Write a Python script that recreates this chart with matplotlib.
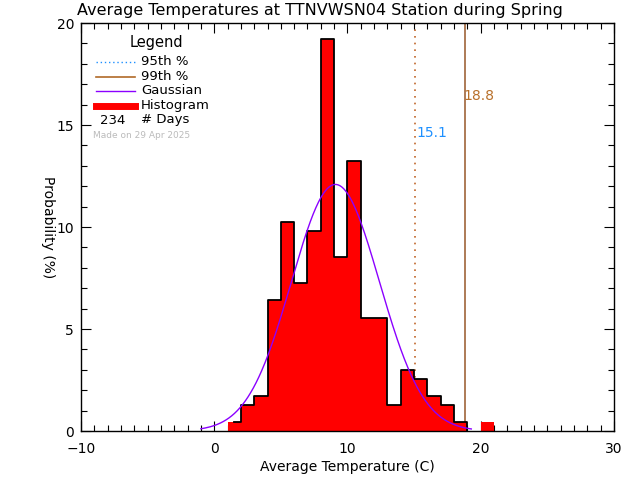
import matplotlib
matplotlib.use("Agg")
import matplotlib.pyplot as plt
from matplotlib.ticker import MultipleLocator
import numpy as np

# histogram of daily average temperature (percent of days, 1 C bins)
bin_edges = [1, 2, 3, 4, 5, 6, 7, 8, 9, 10, 11, 12, 13, 14, 15, 16, 17, 18, 19, 20, 21]
percent = [0.43, 1.28, 1.71, 6.41, 10.26, 7.26, 9.83, 19.23, 8.55, 13.25,
           5.56, 5.56, 1.28, 2.99, 2.56, 1.71, 1.28, 0.43, 0.0, 0.43]

# fitted gaussian
g_mean = 9.1
g_sigma = 3.3
g_start = -1.0
g_end = 19.3

p95 = 15.1
p99 = 18.8
n_days = 234

title = "Average Temperatures at TTNVWSN04 Station during Spring"

fig = plt.figure(figsize=(6.4, 4.8), dpi=100)
ax = fig.add_axes([0.1266, 0.102, 0.8325, 0.850])

left = np.array(bin_edges[:-1])
ax.bar(left, percent, width=1.0, align="edge", color="red", linewidth=0, zorder=2)

# black step outline (starts half way into the first bin, stops at 19)
ox = [1.5] + bin_edges[1:19]
oy = percent[:18] + [0.0]
ax.plot(ox, oy, drawstyle="steps-post", color="black", lw=1.3, zorder=3)

gx = np.linspace(g_start, g_end, 300)
gy = 100.0 / (g_sigma * np.sqrt(2 * np.pi)) * np.exp(-0.5 * ((gx - g_mean) / g_sigma) ** 2)
ax.plot(gx, gy, color="#8B00FF", lw=1.0, zorder=4)

ax.axvline(p95, color="#C0662A", lw=1.2, ls=(0, (1, 3)), zorder=1)
ax.axvline(p99, color="#A0653A", lw=1.2, zorder=1)
ax.text(p95 + 0.1, 14.6, "%.1f" % p95, color="#1E90FF", fontsize=10, va="center")
ax.text(p99 - 0.1, 16.4, "%.1f" % p99, color="#B8702A", fontsize=10, va="center")

ax.set_xlim(-10, 30)
ax.set_ylim(0, 20)
ax.xaxis.set_major_locator(MultipleLocator(10))
ax.xaxis.set_minor_locator(MultipleLocator(1))
ax.yaxis.set_major_locator(MultipleLocator(5))
ax.yaxis.set_minor_locator(MultipleLocator(1))
ax.tick_params(which="both", direction="in", top=True, right=True, labelsize=10, width=0.8)
ax.tick_params(which="major", length=7)
ax.tick_params(which="minor", length=4)
ax.tick_params(axis="x", which="major", pad=8)
ax.tick_params(axis="y", which="major", pad=5)
for s in ax.spines.values():
    s.set_linewidth(1.0)
ax.set_xlabel("Average Temperature (C)", fontsize=10, labelpad=3)
ax.set_ylabel("Probability (%)", fontsize=10, rotation=270, labelpad=14)
ax.yaxis.set_label_coords(-0.075, 0.5)
fig.text(0.5, 0.978, title, ha="center", va="center", fontsize=11.5)

# hand-made legend in figure pixels
def fx(px):
    return px / 640.0

def fy(py):
    return 1 - py / 480.0

fig.text(fx(156), fy(43), "Legend", ha="center", va="center", fontsize=10.5)
rows = [("95th %", 61.7), ("99th %", 76.7), ("Gaussian", 90.7), ("Histogram", 105.5)]
styles = [dict(color="#1E90FF", lw=1.0, ls=(0, (1, 2))),
          dict(color="#B06A28", lw=1.2),
          dict(color="#8B00FF", lw=1.0),
          dict(color="red", lw=5)]
for (label, py), st in zip(rows, styles):
    fig.add_artist(plt.Line2D([fx(96), fx(135)], [fy(py), fy(py)], **st))
    fig.text(fx(141), fy(py), label, va="center", fontsize=9.5)
fig.text(fx(100), fy(120), str(n_days), va="center", fontsize=9.5)
fig.text(fx(141), fy(120), "# Days", va="center", fontsize=9.5)
fig.text(fx(93), fy(136), "Made on 29 Apr 2025", va="center", fontsize=6.5, color="#BBBBBB")

fig.savefig("out.png", dpi=100)
